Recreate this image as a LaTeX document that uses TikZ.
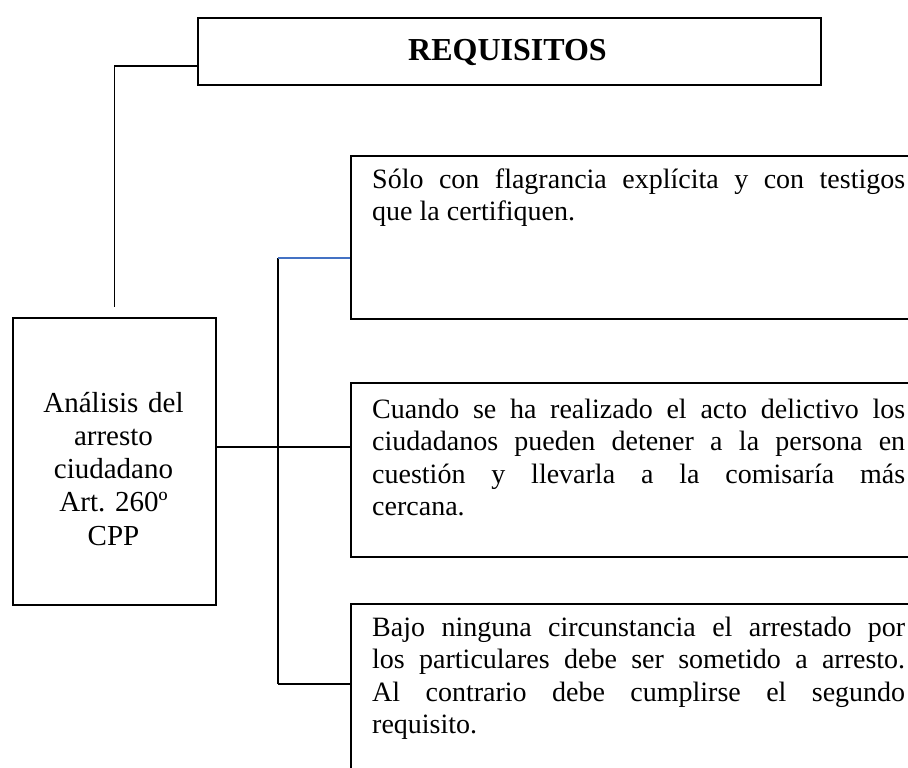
\documentclass[tikz,border=0pt]{standalone}
\usepackage{fontspec}
\setmainfont{Liberation Serif}
\usetikzlibrary{calc}
\definecolor{linkblue}{RGB}{68,114,196}
\frenchspacing
\begin{document}
\begin{tikzpicture}[x=1pt,y=-1pt,
  boxshape/.style={draw=black,line width=1.7pt,rectangle,inner sep=0pt,anchor=north west},
  conn/.style={draw=black,line width=1.5pt},
  bodytext/.style={inner sep=0pt,anchor=base west,text width=533pt,align=justify,
    font=\fontsize{28}{32.5}\selectfont},
  lefttext/.style={inner sep=0pt,anchor=base,text width=200pt,align=center,
    font=\fontsize{29}{33.3}\selectfont},
  titletext/.style={inner sep=0pt,anchor=base,font=\fontsize{32}{36}\selectfont\bfseries}]
\useasboundingbox (0,0) rectangle (908,768);
\clip (0,0) rectangle (908,768);
% boxes
\node[boxshape,minimum width=623pt,minimum height=67pt] (req) at (197,17) {};
\node[titletext] (reqt) at (507.5,61) {REQUISITOS};
\node[boxshape,minimum width=203pt,minimum height=287pt] (lb) at (12,317) {};
\node[lefttext] (lbt) at (113.5,412) {Análisis del\\arresto\\ciudadano\\Art. 260º\\CPP};
\node[boxshape,minimum width=620pt,minimum height=163pt] (b1) at (350,155) {};
\node[bodytext] (t1) at (372,188) {Sólo con flagrancia explícita y con testigos\linebreak que la certifiquen.};
\node[boxshape,minimum width=620pt,minimum height=174pt] (b2) at (350,382) {};
\node[bodytext] (t2) at (372,418) {Cuando se ha realizado el acto delictivo los\linebreak ciudadanos pueden detener a la persona en\linebreak cuestión y llevarla a la comisaría más\linebreak cercana.};
\node[boxshape,minimum width=620pt,minimum height=220pt] (b3) at (350,603) {};
\node[bodytext] (t3) at (372,636) {Bajo ninguna circunstancia el arrestado por\linebreak los particulares debe ser sometido a arresto.\linebreak Al contrario debe cumplirse el segundo\linebreak requisito.};
% connectors
\coordinate (rq) at ($(req.west)+(0,14.5)$);
\coordinate (lbtop) at ($(lb.north)+(0,-10)$);
\draw[conn] (rq) -| (lbtop);
\coordinate (lbe) at ($(lb.east)+(0,-14.5)$);
\draw[conn] (lbe) -- (lbe -| b2.west);
\coordinate (jt) at (278,258);
\coordinate (jb) at (278,684);
\draw[conn] (jt) -- (jb);
\draw[line width=1.5pt,draw=linkblue] (jt) -- (jt -| b1.west);
\draw[conn] (jb) -- (jb -| b3.west);
\end{tikzpicture}
\end{document}
